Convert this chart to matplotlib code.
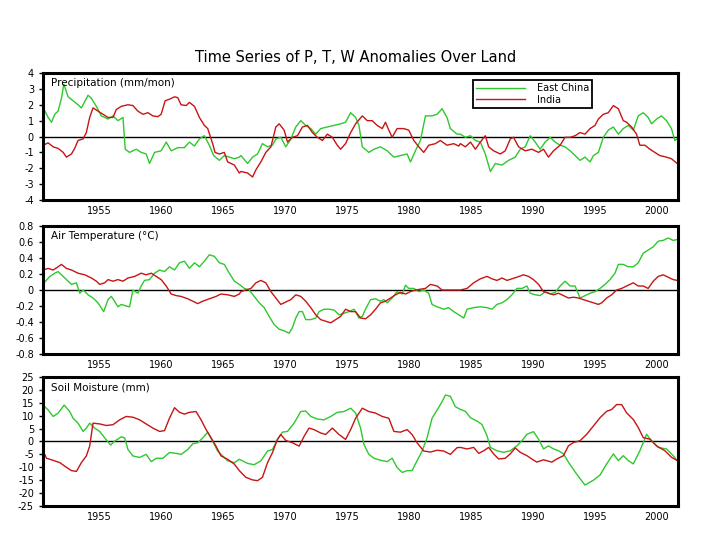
import matplotlib
matplotlib.use('Agg')
import matplotlib.pyplot as plt
import numpy as np

# ---- data: (year, anomaly) ----
china_precip = [
    (1950.47, 1.8), (1950.87, 1.2), (1951.14, 0.9), (1951.40, 1.4), (1951.67, 1.6),
    (1951.94, 2.4), (1952.13, 3.3), (1952.48, 2.5), (1952.88, 2.25), (1953.28, 2.0),
    (1953.55, 1.8), (1954.09, 2.6), (1954.36, 2.4), (1954.76, 1.9), (1955.16, 1.3),
    (1955.70, 1.1), (1956.10, 1.3), (1956.50, 1.0), (1956.91, 1.2), (1957.09, -0.8),
    (1957.44, -1.0), (1957.98, -0.8), (1958.38, -1.0), (1958.78, -1.1), (1959.05, -1.7),
    (1959.46, -1.0), (1959.99, -0.9), (1960.40, -0.35), (1960.80, -0.9), (1961.33, -0.7),
    (1961.87, -0.7), (1962.27, -0.35), (1962.68, -0.6), (1963.08, -0.15), (1963.48, 0.05),
    (1963.88, -0.55), (1964.23, -1.2), (1964.69, -1.5), (1965.09, -1.2), (1965.49, -1.3),
    (1965.90, -1.4), (1966.30, -1.3), (1966.43, -1.2), (1966.97, -1.7), (1967.37, -1.3),
    (1967.77, -1.1), (1968.17, -0.45), (1968.58, -0.65), (1968.98, -0.55), (1969.25, -0.15),
    (1969.65, -0.05), (1970.05, -0.65), (1970.46, -0.15), (1970.86, 0.6), (1971.26, 1.0),
    (1971.66, 0.7), (1972.07, 0.5), (1972.47, 0.15), (1972.87, 0.5), (1973.41, 0.6),
    (1973.95, 0.7), (1974.48, 0.8), (1974.88, 0.9), (1975.29, 1.5), (1975.69, 1.2),
    (1975.96, 0.7), (1976.23, -0.65), (1976.76, -1.0), (1977.17, -0.8), (1977.70, -0.65),
    (1978.24, -0.9), (1978.78, -1.3), (1979.31, -1.2), (1979.85, -1.1), (1980.12, -1.6),
    (1980.52, -0.9), (1980.92, -0.25), (1981.33, 1.3), (1981.86, 1.3), (1982.27, 1.4),
    (1982.67, 1.75), (1983.07, 1.2), (1983.34, 0.5), (1983.88, 0.15), (1984.15, 0.15),
    (1984.55, -0.05), (1984.96, 0.05), (1985.36, -0.25), (1985.76, -0.35), (1986.16, -1.1),
    (1986.57, -2.2), (1986.97, -1.7), (1987.51, -1.8), (1988.04, -1.5), (1988.58, -1.3),
    (1988.98, -0.8), (1989.38, -0.65), (1989.79, 0.05), (1990.19, -0.35), (1990.59, -0.8),
    (1990.99, -0.35), (1991.40, -0.05), (1991.80, -0.35), (1992.20, -0.55), (1992.60, -0.65),
    (1993.01, -0.9), (1993.41, -1.2), (1993.81, -1.5), (1994.21, -1.3), (1994.62, -1.6),
    (1994.89, -1.2), (1995.29, -1.0), (1995.69, -0.05), (1996.09, 0.4), (1996.50, 0.6),
    (1996.90, 0.15), (1997.30, 0.5), (1997.70, 0.7), (1998.11, 0.4), (1998.51, 1.3),
    (1998.91, 1.5), (1999.31, 1.2), (1999.58, 0.8), (1999.99, 1.1), (2000.39, 1.3),
    (2000.79, 1.0), (2001.19, 0.5), (2001.46, -0.25), (2001.65, -0.15),
]
india_precip = [
    (1950.46, -0.55), (1950.87, -0.4), (1951.27, -0.65), (1951.67, -0.75), (1952.08, -1.0),
    (1952.34, -1.3), (1952.75, -1.1), (1953.01, -0.75), (1953.28, -0.25), (1953.69, -0.15),
    (1953.95, 0.25), (1954.22, 1.2), (1954.49, 1.8), (1954.89, 1.6), (1955.30, 1.4),
    (1955.70, 1.2), (1956.10, 1.2), (1956.37, 1.7), (1956.77, 1.9), (1957.31, 2.0),
    (1957.71, 1.95), (1958.11, 1.6), (1958.52, 1.4), (1958.92, 1.5), (1959.32, 1.3),
    (1959.72, 1.25), (1959.99, 1.4), (1960.31, 2.25), (1960.66, 2.35), (1961.07, 2.5),
    (1961.33, 2.45), (1961.60, 2.0), (1962.01, 1.95), (1962.27, 2.15), (1962.68, 1.9),
    (1963.08, 1.2), (1963.48, 0.7), (1963.75, 0.5), (1964.15, -0.45), (1964.34, -1.0),
    (1964.69, -1.1), (1965.09, -1.0), (1965.36, -1.6), (1965.90, -1.8), (1966.30, -2.3),
    (1966.43, -2.2), (1966.97, -2.3), (1967.37, -2.55), (1967.64, -2.1), (1968.04, -1.6),
    (1968.44, -1.0), (1968.85, -0.65), (1969.25, 0.6), (1969.52, 0.8), (1969.92, 0.4),
    (1970.19, -0.35), (1970.59, -0.05), (1970.99, 0.05), (1971.40, 0.6), (1971.80, 0.7),
    (1972.20, 0.25), (1972.60, -0.05), (1973.01, -0.25), (1973.41, 0.15), (1973.81, -0.05),
    (1974.21, -0.55), (1974.48, -0.8), (1974.88, -0.45), (1975.29, 0.25), (1975.69, 0.8),
    (1976.23, 1.3), (1976.63, 1.0), (1977.03, 1.0), (1977.43, 0.7), (1977.84, 0.5),
    (1978.10, 0.9), (1978.37, 0.4), (1978.64, -0.05), (1979.04, 0.5), (1979.58, 0.5),
    (1979.98, 0.4), (1980.39, -0.25), (1980.79, -0.65), (1981.19, -1.0), (1981.59, -0.55),
    (1982.13, -0.45), (1982.53, -0.25), (1983.07, -0.55), (1983.61, -0.45), (1984.01, -0.6),
    (1984.15, -0.45), (1984.55, -0.65), (1984.96, -0.35), (1985.36, -0.8), (1985.76, -0.35),
    (1986.16, 0.05), (1986.43, -0.65), (1986.83, -0.9), (1987.37, -1.1), (1987.77, -0.9),
    (1988.18, -0.15), (1988.44, -0.05), (1988.85, -0.65), (1989.38, -0.9), (1989.92, -0.8),
    (1990.46, -1.0), (1990.86, -0.8), (1991.26, -1.3), (1991.67, -0.9), (1992.20, -0.55),
    (1992.60, -0.05), (1993.01, -0.05), (1993.41, 0.05), (1993.81, 0.25), (1994.21, 0.15),
    (1994.62, 0.5), (1995.02, 0.7), (1995.29, 1.1), (1995.69, 1.4), (1996.09, 1.5),
    (1996.50, 1.95), (1996.90, 1.75), (1997.30, 1.0), (1997.57, 0.9), (1997.97, 0.6),
    (1998.37, 0.15), (1998.64, -0.55), (1999.05, -0.55), (1999.45, -0.8), (1999.85, -1.0),
    (2000.25, -1.2), (2000.79, -1.3), (2001.19, -1.4), (2001.65, -1.7),
]
china_temp = [
    (1950.47, 0.08), (1950.60, 0.1), (1951.00, 0.17), (1951.40, 0.21), (1951.67, 0.23),
    (1952.08, 0.17), (1952.48, 0.11), (1952.75, 0.07), (1953.15, 0.09), (1953.42, -0.04),
    (1953.69, 0.0), (1954.09, -0.06), (1954.49, -0.1), (1954.89, -0.16), (1955.35, -0.27),
    (1955.70, -0.12), (1955.97, -0.08), (1956.23, -0.14), (1956.50, -0.21), (1956.77, -0.18),
    (1957.17, -0.2), (1957.44, -0.21), (1957.71, 0.0), (1958.11, -0.04), (1958.38, 0.05),
    (1958.65, 0.12), (1959.05, 0.13), (1959.46, 0.21), (1959.86, 0.25), (1960.26, 0.23),
    (1960.66, 0.29), (1961.07, 0.25), (1961.47, 0.34), (1961.87, 0.36), (1962.27, 0.27),
    (1962.68, 0.34), (1963.08, 0.29), (1963.48, 0.36), (1963.88, 0.44), (1964.29, 0.42),
    (1964.69, 0.34), (1965.09, 0.32), (1965.49, 0.21), (1965.90, 0.11), (1966.30, 0.07),
    (1966.70, 0.02), (1967.10, 0.0), (1967.50, -0.08), (1967.91, -0.16), (1968.31, -0.22),
    (1968.71, -0.33), (1969.11, -0.43), (1969.52, -0.49), (1969.92, -0.51), (1970.32, -0.54),
    (1970.59, -0.47), (1970.86, -0.35), (1971.13, -0.27), (1971.40, -0.27), (1971.66, -0.37),
    (1972.07, -0.37), (1972.47, -0.35), (1972.74, -0.27), (1973.14, -0.24), (1973.54, -0.24),
    (1973.95, -0.25), (1974.35, -0.31), (1974.75, -0.29), (1975.15, -0.27), (1975.56, -0.24),
    (1975.96, -0.35), (1976.23, -0.33), (1976.49, -0.24), (1976.90, -0.12), (1977.30, -0.11),
    (1977.70, -0.14), (1977.97, -0.12), (1978.24, -0.16), (1978.64, -0.1), (1979.04, -0.02),
    (1979.45, -0.05), (1979.72, 0.06), (1979.98, 0.02), (1980.39, 0.02), (1980.79, -0.02),
    (1981.19, 0.0), (1981.59, -0.04), (1981.86, -0.18), (1982.27, -0.21), (1982.80, -0.24),
    (1983.20, -0.22), (1983.61, -0.27), (1984.01, -0.31), (1984.42, -0.35), (1984.69, -0.24),
    (1985.22, -0.22), (1985.76, -0.21), (1986.30, -0.22), (1986.70, -0.24), (1987.10, -0.18),
    (1987.51, -0.16), (1987.91, -0.12), (1988.31, -0.06), (1988.71, 0.02), (1989.12, 0.02),
    (1989.52, 0.05), (1989.79, -0.04), (1990.19, -0.06), (1990.59, -0.07), (1990.99, -0.02),
    (1991.40, -0.05), (1991.80, -0.03), (1992.20, 0.05), (1992.60, 0.11), (1993.01, 0.05),
    (1993.41, 0.05), (1993.81, -0.1), (1994.21, -0.07), (1994.62, -0.04), (1995.02, -0.02),
    (1995.42, 0.02), (1995.82, 0.07), (1996.23, 0.13), (1996.63, 0.21), (1996.90, 0.32),
    (1997.30, 0.32), (1997.70, 0.29), (1998.11, 0.29), (1998.51, 0.34), (1998.91, 0.46),
    (1999.31, 0.5), (1999.72, 0.54), (2000.12, 0.61), (2000.52, 0.62), (2000.92, 0.65),
    (2001.33, 0.62), (2001.65, 0.63),
]
india_temp = [
    (1950.46, 0.25), (1950.87, 0.27), (1951.27, 0.25), (1951.67, 0.29), (1951.94, 0.32),
    (1952.34, 0.27), (1952.75, 0.25), (1953.28, 0.21), (1953.82, 0.19), (1954.36, 0.15),
    (1954.76, 0.11), (1955.03, 0.07), (1955.43, 0.09), (1955.70, 0.13), (1956.10, 0.11),
    (1956.50, 0.13), (1956.91, 0.11), (1957.31, 0.15), (1957.85, 0.17), (1958.38, 0.21),
    (1958.78, 0.19), (1959.19, 0.21), (1959.59, 0.17), (1959.99, 0.13), (1960.40, 0.05),
    (1960.80, -0.05), (1961.20, -0.07), (1961.60, -0.08), (1962.14, -0.11), (1962.68, -0.15),
    (1962.94, -0.17), (1963.35, -0.14), (1963.88, -0.11), (1964.42, -0.08), (1964.82, -0.05),
    (1965.36, -0.06), (1965.90, -0.08), (1966.30, -0.05), (1966.43, -0.02), (1966.83, 0.0),
    (1967.24, 0.02), (1967.64, 0.09), (1968.04, 0.12), (1968.44, 0.09), (1968.85, -0.02),
    (1969.25, -0.1), (1969.65, -0.18), (1970.05, -0.15), (1970.46, -0.12), (1970.86, -0.06),
    (1971.26, -0.08), (1971.66, -0.14), (1972.07, -0.22), (1972.47, -0.31), (1972.87, -0.37),
    (1973.27, -0.39), (1973.68, -0.41), (1974.08, -0.37), (1974.48, -0.33), (1974.88, -0.24),
    (1975.29, -0.27), (1975.69, -0.27), (1976.09, -0.35), (1976.49, -0.36), (1976.90, -0.31),
    (1977.30, -0.24), (1977.70, -0.16), (1978.10, -0.14), (1978.51, -0.1), (1978.91, -0.06),
    (1979.31, -0.03), (1979.72, -0.05), (1980.12, -0.02), (1980.52, 0.0), (1980.92, 0.01),
    (1981.33, 0.02), (1981.73, 0.07), (1982.27, 0.05), (1982.67, 0.0), (1983.07, 0.0),
    (1983.61, 0.0), (1984.15, 0.0), (1984.69, 0.02), (1985.22, 0.09), (1985.76, 0.14),
    (1986.30, 0.17), (1986.70, 0.14), (1987.10, 0.12), (1987.51, 0.15), (1987.91, 0.12),
    (1988.31, 0.14), (1988.71, 0.16), (1989.25, 0.19), (1989.65, 0.17), (1990.05, 0.13),
    (1990.46, 0.07), (1990.86, -0.02), (1991.26, -0.04), (1991.67, -0.06), (1992.07, -0.04),
    (1992.47, -0.07), (1992.87, -0.1), (1993.28, -0.09), (1993.68, -0.1), (1994.08, -0.12),
    (1994.48, -0.14), (1994.89, -0.16), (1995.29, -0.18), (1995.56, -0.16), (1995.96, -0.1),
    (1996.36, -0.06), (1996.76, 0.0), (1997.17, 0.02), (1997.57, 0.05), (1998.11, 0.09),
    (1998.51, 0.05), (1998.91, 0.05), (1999.31, 0.02), (1999.72, 0.11), (2000.12, 0.17),
    (2000.52, 0.19), (2000.92, 0.16), (2001.33, 0.13), (2001.65, 0.12),
]
china_soil = [
    (1950.46, 14.1), (1950.87, 12.2), (1951.27, 9.7), (1951.67, 11.0), (1952.16, 14.1),
    (1952.61, 11.6), (1952.88, 9.0), (1953.28, 7.1), (1953.69, 3.9), (1953.95, 5.2),
    (1954.22, 7.1), (1954.62, 5.2), (1955.03, 3.9), (1955.43, 1.4), (1955.91, -1.4),
    (1956.23, 0.1), (1956.77, 1.8), (1957.04, 1.4), (1957.31, -3.1), (1957.71, -5.6),
    (1958.25, -6.2), (1958.78, -5.0), (1959.19, -7.8), (1959.59, -6.5), (1960.13, -6.5),
    (1960.66, -4.3), (1961.20, -4.6), (1961.60, -5.0), (1962.14, -3.1), (1962.54, -0.9),
    (1962.94, -0.5), (1963.35, 1.4), (1963.75, 3.6), (1964.15, 0.1), (1964.55, -3.7),
    (1964.96, -5.6), (1965.36, -7.5), (1965.90, -8.2), (1966.30, -6.9), (1966.97, -8.5),
    (1967.50, -9.0), (1968.04, -7.5), (1968.58, -3.7), (1968.98, -3.1), (1969.38, 0.8),
    (1969.78, 3.6), (1970.19, 3.9), (1970.72, 7.1), (1971.26, 11.6), (1971.66, 11.8),
    (1972.07, 9.7), (1972.60, 8.7), (1973.14, 8.4), (1973.68, 9.7), (1974.21, 11.3),
    (1974.75, 11.6), (1975.29, 12.9), (1975.69, 11.0), (1976.09, 5.2), (1976.36, -1.1),
    (1976.76, -5.0), (1977.17, -6.5), (1977.70, -7.3), (1978.24, -7.8), (1978.64, -6.5),
    (1979.04, -10.1), (1979.45, -12.0), (1979.85, -11.3), (1980.25, -11.3), (1980.65, -7.5),
    (1981.06, -3.7), (1981.46, 1.4), (1981.86, 9.0), (1982.27, 12.2), (1982.67, 15.4),
    (1982.94, 18.0), (1983.34, 17.5), (1983.74, 13.5), (1984.15, 12.4), (1984.55, 11.7),
    (1984.96, 9.2), (1985.49, 7.9), (1985.89, 6.6), (1986.30, 2.2), (1986.57, -2.3),
    (1987.10, -3.6), (1987.64, -4.2), (1988.18, -3.6), (1988.71, -1.7), (1989.12, 0.3),
    (1989.52, 2.8), (1990.05, 3.8), (1990.46, 0.9), (1990.86, -2.9), (1991.26, -1.7),
    (1991.67, -2.9), (1992.07, -3.6), (1992.47, -4.8), (1992.87, -8.0), (1993.41, -11.8),
    (1993.81, -14.4), (1994.21, -16.9), (1994.89, -15.0), (1995.42, -13.0), (1995.96, -8.7),
    (1996.50, -4.8), (1996.90, -7.4), (1997.30, -5.5), (1997.70, -7.4), (1998.11, -8.7),
    (1998.64, -3.6), (1999.18, 2.8), (1999.58, 0.3), (2000.12, -2.3), (2000.79, -2.9),
    (2001.33, -5.5), (2001.65, -7.4),
]
india_soil = [
    (1950.46, -3.7), (1950.73, -6.5), (1951.27, -7.3), (1951.81, -8.2), (1952.34, -10.0),
    (1952.75, -11.3), (1953.15, -11.6), (1953.55, -8.2), (1953.95, -5.6), (1954.22, -1.8),
    (1954.49, 7.1), (1955.03, 6.8), (1955.56, 6.2), (1956.10, 6.5), (1956.64, 8.4),
    (1957.17, 9.7), (1957.71, 9.4), (1958.25, 8.4), (1958.78, 6.8), (1959.32, 5.2),
    (1959.86, 3.9), (1960.26, 4.2), (1960.66, 9.0), (1961.07, 13.1), (1961.47, 11.3),
    (1961.87, 10.6), (1962.27, 11.3), (1962.81, 11.6), (1963.21, 8.4), (1963.62, 4.6),
    (1964.02, 1.4), (1964.42, -1.8), (1964.82, -5.6), (1965.36, -6.9), (1965.90, -8.8),
    (1966.30, -11.3), (1966.83, -13.9), (1967.37, -14.9), (1967.77, -15.2), (1968.17, -13.9),
    (1968.58, -8.2), (1968.98, -4.3), (1969.38, 0.8), (1969.65, 2.7), (1970.05, 0.4),
    (1970.59, -0.5), (1971.13, -1.8), (1971.53, 2.0), (1971.93, 5.2), (1972.33, 4.6),
    (1972.87, 3.3), (1973.27, 2.7), (1973.81, 5.2), (1974.35, 2.7), (1974.88, 0.8),
    (1975.29, 4.6), (1975.69, 9.0), (1976.23, 12.9), (1976.76, 11.6), (1977.30, 11.0),
    (1977.84, 9.7), (1978.37, 9.0), (1978.78, 3.9), (1979.31, 3.6), (1979.85, 4.6),
    (1980.25, 2.7), (1980.65, -0.5), (1981.19, -3.7), (1981.73, -4.1), (1982.27, -3.4),
    (1982.80, -3.7), (1983.34, -5.0), (1983.88, -2.4), (1984.15, -2.3), (1984.69, -2.9),
    (1985.22, -2.3), (1985.63, -4.6), (1986.03, -3.6), (1986.43, -2.3), (1986.83, -4.8),
    (1987.24, -6.8), (1987.77, -6.5), (1988.18, -4.8), (1988.58, -2.5), (1988.98, -4.2),
    (1989.52, -5.5), (1989.92, -6.8), (1990.32, -8.0), (1990.86, -7.1), (1991.53, -8.0),
    (1991.93, -6.8), (1992.47, -5.5), (1992.87, -1.7), (1993.28, -0.4), (1993.81, 0.3),
    (1994.35, 2.8), (1994.89, 6.0), (1995.42, 9.2), (1995.96, 11.7), (1996.36, 12.4),
    (1996.76, 14.3), (1997.17, 14.3), (1997.57, 11.1), (1998.11, 8.5), (1998.51, 5.4),
    (1998.91, 1.5), (1999.45, 0.9), (1999.99, -1.7), (2000.66, -3.6), (2001.19, -6.1),
    (2001.65, -7.4),
]

panel_titles = ['Precipitation (mm/mon)', 'Air Temperature (\u00b0C)', 'Soil Moisture (mm)']
y_ticks = [
    [-4, -3, -2, -1, 0, 1, 2, 3, 4],
    [-0.8, -0.6, -0.4, -0.2, 0, 0.2, 0.4, 0.6, 0.8],
    [-25, -20, -15, -10, -5, 0, 5, 10, 15, 20, 25],
]
y_labels = [
    ['-4', '-3', '-2', '-1', '0', '1', '2', '3', '4'],
    ['-0.8', '-0.6', '-0.4', '-0.2', '0', '0.2', '0.4', '0.6', '0.8'],
    ['-25', '-20', '-15', '-10', '-5', '0', '5', '10', '15', '20', '25'],
]
x_ticks = [1955, 1960, 1965, 1970, 1975, 1980, 1985, 1990, 1995, 2000]

GREEN = '#2ec82e'
RED = '#c81414'

fig = plt.figure(figsize=(7.2, 5.4), dpi=100)
fig.text(0.494, 0.893, 'Time Series of P, T, W Anomalies Over Land',
         ha='center', va='center', fontsize=10.5)

boxes = [
    [0.0597, 0.6296, 0.8820, 0.2352],
    [0.0597, 0.3444, 0.8820, 0.2371],
    [0.0597, 0.0630, 0.8820, 0.2389],
]
series = [
    (china_precip, india_precip),
    (china_temp, india_temp),
    (china_soil, india_soil),
]

for i, box in enumerate(boxes):
    ax = fig.add_axes(box)
    cn, ind = series[i]
    cx, cy = zip(*cn)
    ix, iy = zip(*ind)
    ax.plot(cx, cy, color=GREEN, lw=1.0, label='East China')
    ax.plot(ix, iy, color=RED, lw=1.0, label='India')
    ax.axhline(0, color='black', lw=1.0, zorder=0)
    ax.set_xlim(1950.45, 2001.72)
    ax.set_ylim(y_ticks[i][0], y_ticks[i][-1])
    ax.set_yticks(y_ticks[i])
    ax.set_yticklabels(y_labels[i])
    ax.set_xticks(x_ticks)
    ax.set_xticklabels([str(t) for t in x_ticks])
    ax.tick_params(axis='both', labelsize=7, length=3, width=1, direction='out')
    ax.tick_params(axis='x', length=0, pad=4)
    for sp in ax.spines.values():
        sp.set_linewidth(2.2)
    ax.text(0.012, 0.96, panel_titles[i], transform=ax.transAxes,
            ha='left', va='top', fontsize=7.5)
    if i == 0:
        leg = ax.legend(loc='upper left', bbox_to_anchor=(0.67, 0.98),
                        fontsize=7, handlelength=5.0, fancybox=False,
                        framealpha=1, edgecolor='black', borderpad=0.3,
                        labelspacing=0.15, handletextpad=1.2)
        leg.get_frame().set_linewidth(1.3)

fig.savefig('out.png', dpi=100)
